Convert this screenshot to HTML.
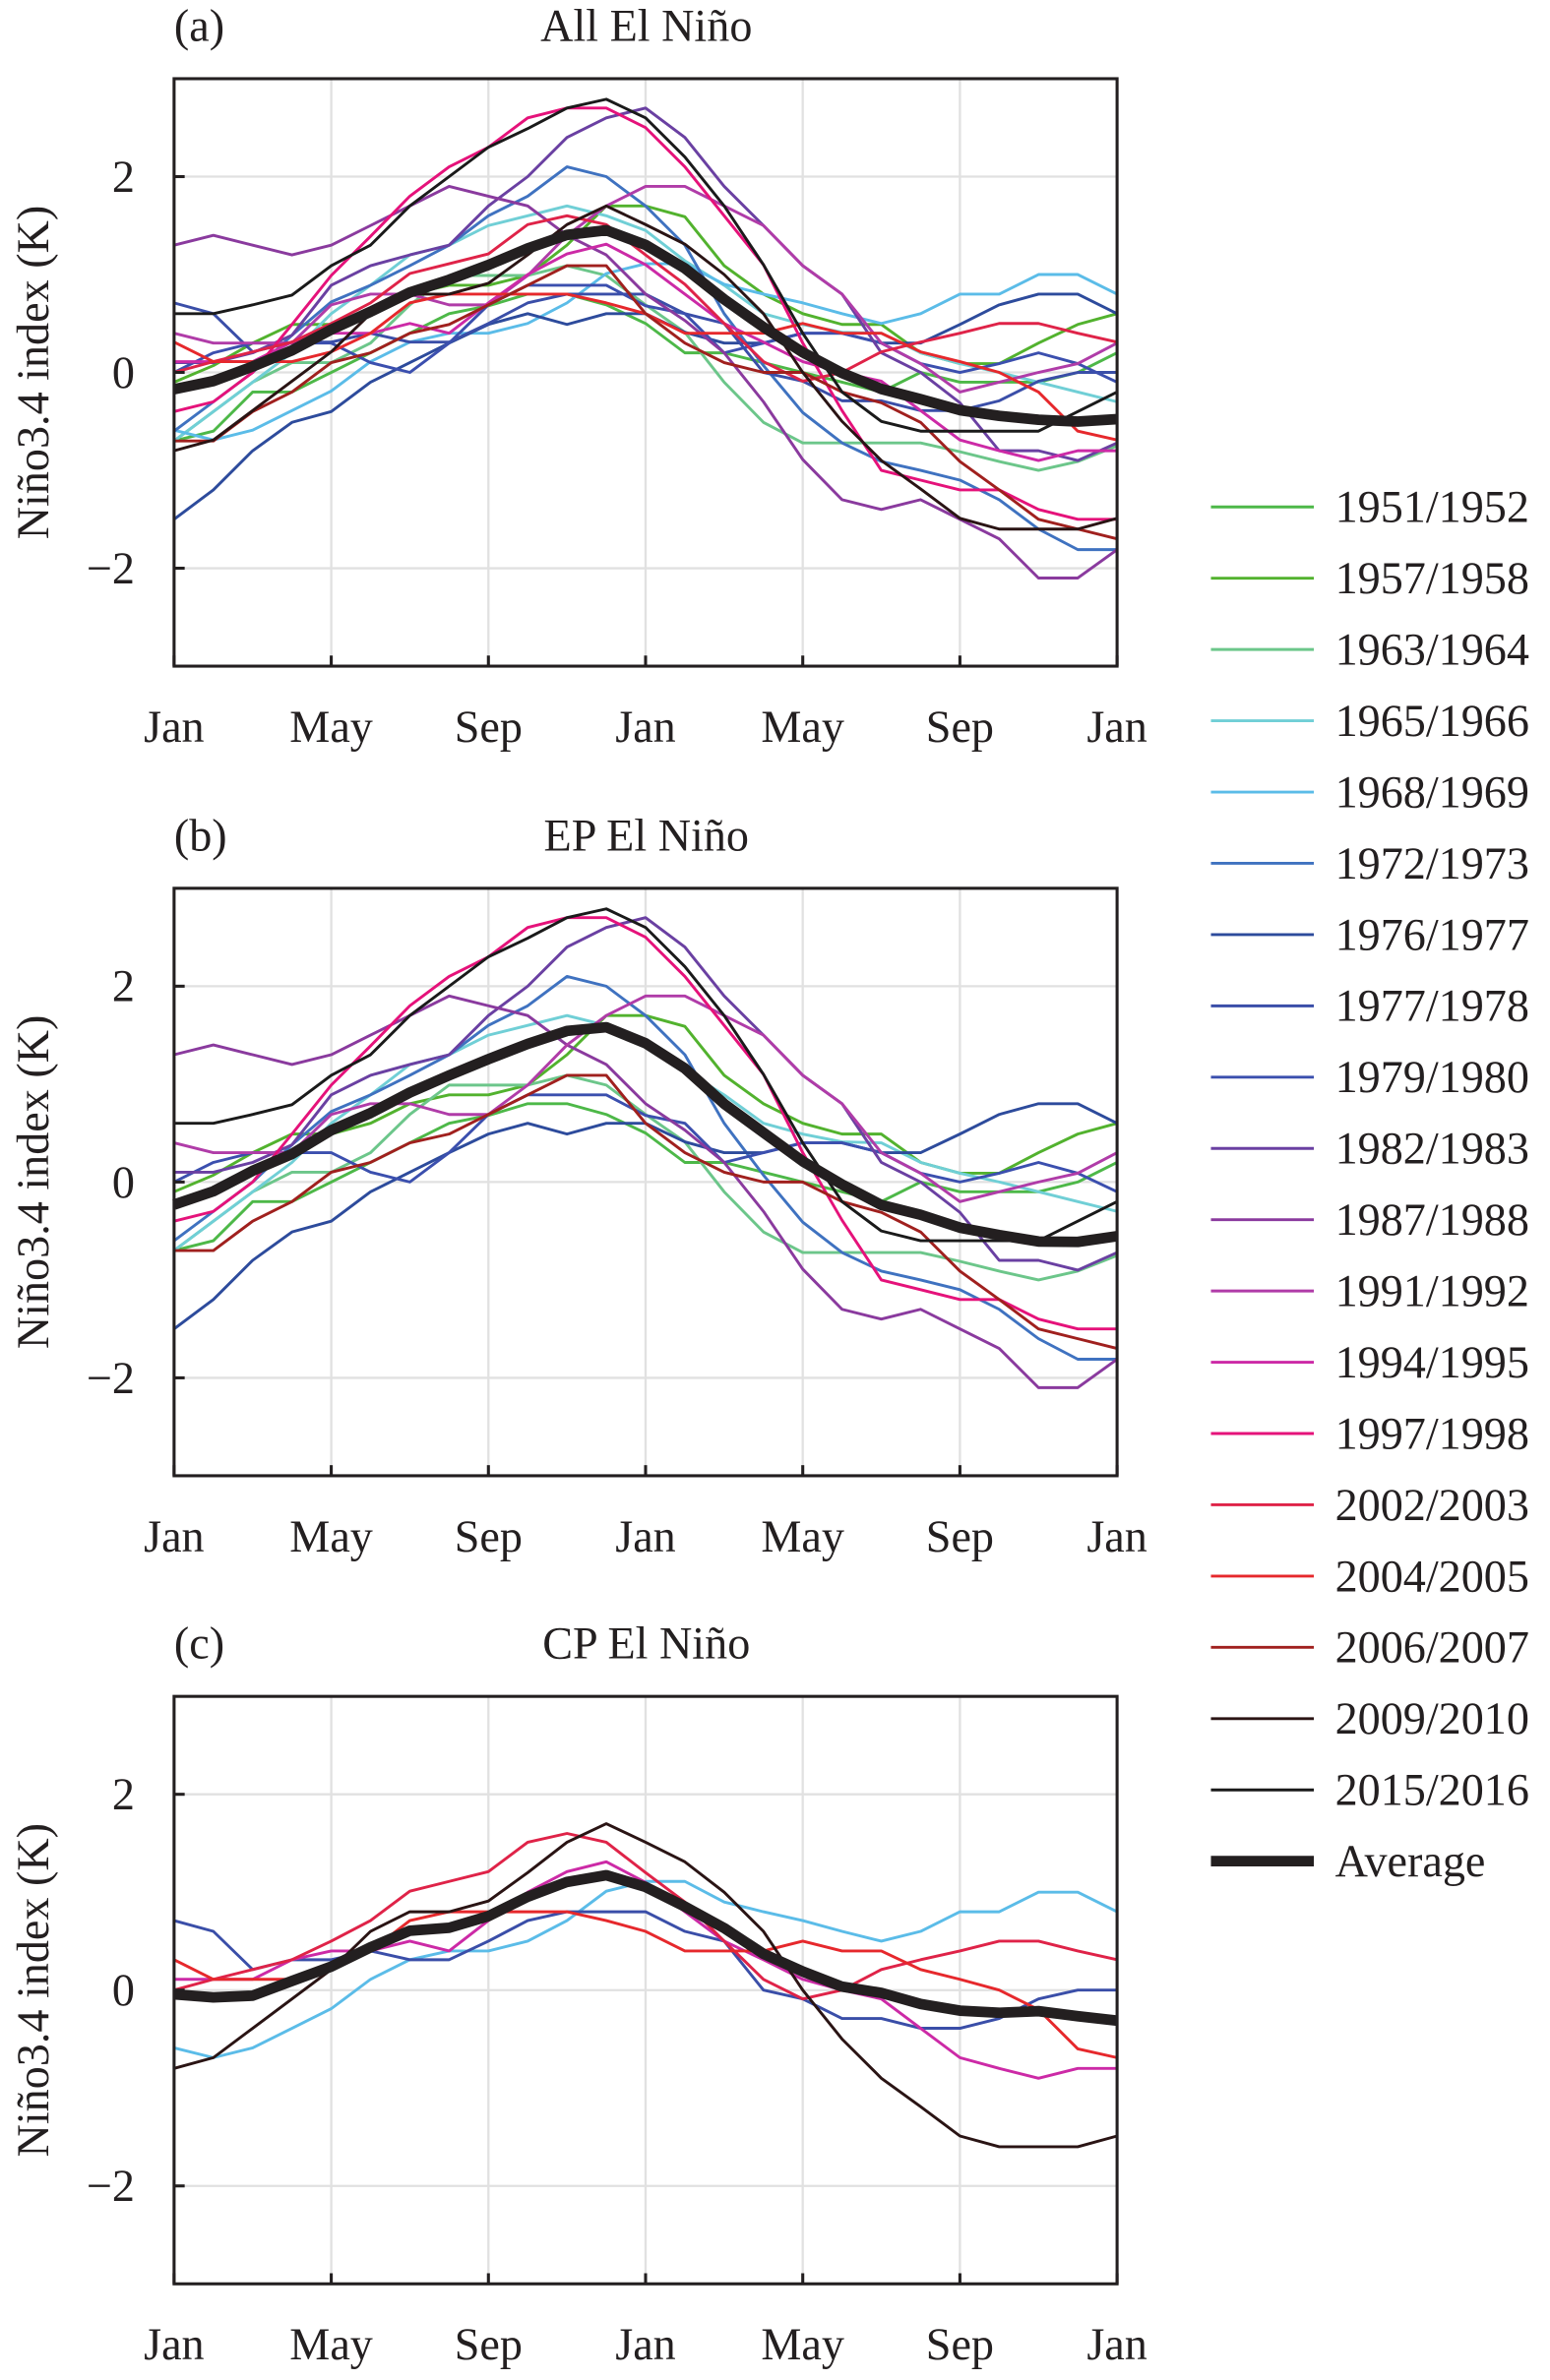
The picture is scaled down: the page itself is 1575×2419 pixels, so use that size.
<!DOCTYPE html>
<html><head><meta charset="utf-8">
<style>
html,body{margin:0;padding:0;background:#fff;}
svg{display:block;}
text{font-family:"Liberation Serif",serif;fill:#231f20;}
</style></head>
<body>
<svg id="chart" xmlns="http://www.w3.org/2000/svg" width="1575" height="2419" viewBox="0 0 1024 1572.75"></svg>
<script>
const months = ["Jan","May","Sep","Jan","May","Sep","Jan"];
const yTicks = [2, 0, -2];
const yTickLabels = ["2", "0", "\u22122"];
const seriesNames = ["1951/1952","1957/1958","1963/1964","1965/1966","1968/1969","1972/1973","1976/1977","1977/1978","1979/1980","1982/1983","1987/1988","1991/1992","1994/1995","1997/1998","2002/2003","2004/2005","2006/2007","2009/2010","2015/2016"];
const seriesColors = ["#4db848","#52b22e","#6cc68a","#70cfd6","#5bbce8","#3f72c0","#2d4b9c","#3a4ea8","#3b4fae","#6a40a2","#8a3a9e","#b03ca8","#cc2aa6","#e5127a","#df2348","#e6282c","#a0201e","#2a1414","#1a1a1a"];
const seriesType = ["EP","EP","EP","EP","CP","EP","EP","CP","EP","EP","EP","EP","CP","EP","CP","CP","EP","CP","EP"];
const s1951 = [-0.7,-0.6,-0.2,-0.2,0,0.2,0.4,0.6,0.68,0.8,0.8,0.69,0.5,0.2,0.2,0.1,0,-0.1,-0.2,0,-0.1,-0.1,-0.1,0,0.2];
const s1957 = [-0.1,0.07,0.3,0.49,0.49,0.6,0.8,0.89,0.89,0.99,1.3,1.7,1.7,1.59,1.09,0.8,0.6,0.49,0.49,0.2,0.09,0.09,0.3,0.49,0.6];
const s1963 = [-0.7,-0.4,-0.1,0.1,0.1,0.3,0.69,0.99,0.99,0.99,1.09,0.99,0.69,0.41,-0.1,-0.51,-0.72,-0.72,-0.72,-0.72,-0.81,-0.91,-1.0,-0.91,-0.75];
const s1965 = [-0.7,-0.4,-0.1,0.2,0.6,0.89,1.2,1.3,1.5,1.6,1.7,1.6,1.45,1.14,0.89,0.6,0.49,0.41,0.4,0.2,0.09,0,-0.1,-0.2,-0.3];
const s1968 = [-0.59,-0.69,-0.59,-0.39,-0.19,0.11,0.31,0.4,0.4,0.5,0.71,1.01,1.11,1.11,0.9,0.8,0.71,0.6,0.5,0.6,0.8,0.8,1.0,1.0,0.8];
const s1972 = [-0.6,-0.3,0,0.38,0.72,0.89,1.09,1.3,1.6,1.8,2.1,2.0,1.7,1.3,0.6,0.07,-0.41,-0.72,-0.91,-1.0,-1.1,-1.3,-1.6,-1.81,-1.81];
const s1976 = [-1.5,-1.2,-0.8,-0.51,-0.4,-0.1,0.1,0.3,0.49,0.6,0.49,0.6,0.6,0.41,0.3,0.3,0.4,0.4,0.3,0.3,0.49,0.69,0.8,0.8,0.6];
const s1977 = [0.71,0.6,0.21,0.31,0.31,0.4,0.31,0.31,0.5,0.71,0.8,0.8,0.8,0.6,0.5,0,-0.09,-0.29,-0.29,-0.39,-0.39,-0.29,-0.09,0,0];
const s1979 = [0,0.2,0.3,0.3,0.3,0.1,0,0.3,0.69,0.89,0.89,0.89,0.68,0.6,0.2,0.3,0.4,0.4,0.3,0.09,0,0.09,0.2,0.09,-0.1];
const s1982 = [0.1,0.1,0.2,0.38,0.89,1.09,1.2,1.3,1.7,2.0,2.4,2.6,2.7,2.4,1.9,1.5,1.09,0.8,0.2,0,-0.31,-0.8,-0.8,-0.9,-0.72];
const s1987 = [1.3,1.4,1.3,1.2,1.3,1.5,1.7,1.9,1.8,1.7,1.4,1.2,0.8,0.53,0.2,-0.3,-0.89,-1.3,-1.4,-1.3,-1.5,-1.7,-2.1,-2.1,-1.81];
const s1991 = [0.4,0.3,0.3,0.3,0.69,0.8,0.8,0.69,0.69,0.99,1.4,1.7,1.9,1.9,1.7,1.5,1.09,0.8,0.3,0.09,-0.2,-0.1,0,0.09,0.3];
const s1994 = [0.11,0.11,0.11,0.31,0.4,0.4,0.5,0.4,0.71,1.0,1.21,1.31,1.1,0.8,0.5,0.31,0.11,0,-0.09,-0.39,-0.69,-0.8,-0.9,-0.8,-0.8];
const s1997 = [-0.4,-0.3,0,0.49,0.99,1.39,1.8,2.1,2.3,2.6,2.7,2.7,2.5,2.1,1.6,1.1,0.3,-0.39,-1.0,-1.1,-1.2,-1.2,-1.4,-1.5,-1.5];
const s2002 = [0,0.11,0.21,0.31,0.5,0.71,1.01,1.11,1.21,1.51,1.6,1.51,1.2,0.9,0.5,0.11,-0.09,0,0.21,0.31,0.4,0.5,0.5,0.4,0.31];
const s2004 = [0.31,0.11,0.11,0.11,0.21,0.4,0.71,0.8,0.8,0.8,0.8,0.71,0.6,0.4,0.4,0.4,0.5,0.4,0.4,0.21,0.11,0,-0.2,-0.6,-0.69];
const s2006 = [-0.7,-0.7,-0.4,-0.2,0.1,0.2,0.4,0.49,0.69,0.89,1.09,1.09,0.6,0.3,0.1,0,0,-0.2,-0.31,-0.51,-0.91,-1.2,-1.5,-1.6,-1.7];
const s2009 = [-0.8,-0.69,-0.39,-0.09,0.21,0.6,0.8,0.8,0.91,1.2,1.51,1.7,1.51,1.31,1.0,0.6,0,-0.5,-0.9,-1.19,-1.49,-1.6,-1.6,-1.6,-1.49];
const s2015 = [0.6,0.6,0.69,0.79,1.09,1.3,1.7,2.0,2.3,2.49,2.7,2.79,2.6,2.2,1.7,1.1,0.4,-0.2,-0.5,-0.6,-0.6,-0.6,-0.6,-0.4,-0.2];
const seriesValues = [s1951,s1957,s1963,s1965,s1968,s1972,s1976,s1977,s1979,s1982,s1987,s1991,s1994,s1997,s2002,s2004,s2006,s2009,s2015];
const panelTitles = ["All El Ni\u00f1o","EP El Ni\u00f1o","CP El Ni\u00f1o"];
const panelLetters = ["(a)","(b)","(c)"];
const panelFilters = ["ALL","EP","CP"];

const NS = "http://www.w3.org/2000/svg";
const svg = document.getElementById("chart");
function mk(tag, attrs, parent){const e=document.createElementNS(NS,tag);for(const k in attrs)e.setAttribute(k,attrs[k]);(parent||svg).appendChild(e);return e;}

const X0 = 115, X1 = 738;
const panelTops = [52, 587, 1121];
const UNIT = 64.7;
const FS = 30;
function xScale(i){return X0 + (X1 - X0) * i / 24;}

panelTops.forEach((top, p) => {
  const bottom = top + 6*UNIT;
  const zeroY = top + 3*UNIT;
  const yScale = v => zeroY - v*UNIT;
  const g = mk("g", {});
  
  
  for (let k = 0; k <= 6; k++) {
    const x = xScale(k*4);
    const gl = mk("line", {x1:x, x2:x, y1:top, y2:bottom, stroke:"#e1e1e1", "stroke-width":1.5}, g);
    
    
  }
  yTicks.forEach(v => {
    const gl = mk("line", {x1:X0, x2:X1, y1:yScale(v), y2:yScale(v), stroke:"#e1e1e1", "stroke-width":1.5}, g);
    
    
  });
  const idxs = [];
  seriesValues.forEach((vals, i) => {
    if (panelFilters[p] !== "ALL" && seriesType[i] !== panelFilters[p]) return;
    idxs.push(i);
    const pts = vals.map((v, j) => xScale(j).toFixed(2) + "," + yScale(v).toFixed(2)).join(" ");
    const pl = mk("polyline", {points:pts, fill:"none", stroke:seriesColors[i], "stroke-width":1.9, "stroke-linejoin":"round"}, g);
    
    
  });
  const avg = seriesValues[0].map((_, j) => idxs.reduce((s, i) => s + seriesValues[i][j], 0) / idxs.length);
  const ap = mk("polyline", {points: avg.map((v, j) => xScale(j).toFixed(2) + "," + yScale(v).toFixed(2)).join(" "), fill:"none", stroke:"#231f20", "stroke-width":7, "stroke-linejoin":"round"}, g);
  
  
  const fr = mk("rect", {x:X0, y:top, width:X1-X0, height:bottom-top, fill:"none", stroke:"#231f20", "stroke-width":2}, g);
  
  
  yTicks.forEach((v, k) => {
    const t = mk("line", {x1:X0, x2:X0+7, y1:yScale(v), y2:yScale(v), stroke:"#231f20", "stroke-width":2}, g);
    
    
    const tl = mk("text", {x:89, y:yScale(v)+10, "text-anchor":"end", "font-size":FS}, g);
    tl.textContent = yTickLabels[k];
    
    
  });
  months.forEach((m, k) => {
    const x = xScale(k*4);
    const t = mk("line", {x1:x, x2:x, y1:bottom, y2:bottom-7, stroke:"#231f20", "stroke-width":2}, g);
    
    
    const tl = mk("text", {x:x, y:bottom+50, "text-anchor":"middle", "font-size":FS}, g);
    tl.textContent = m;
    
    
  });
  const lt = mk("text", {x:115, y:top-25, "text-anchor":"start", "font-size":FS}, g);
  lt.textContent = panelLetters[p];
  
  
  const tt = mk("text", {x:427, y:top-25, "text-anchor":"middle", "font-size":FS}, g);
  tt.textContent = panelTitles[p];
  
  
  const yt = mk("text", {x:0, y:0, "text-anchor":"middle", "font-size":FS, transform:"translate(32," + (zeroY) + ") rotate(-90)"}, g);
  yt.textContent = "Ni\u00f1o3.4 index (K)";
  
  
});

const lg = mk("g", {});


const entries = seriesNames.concat(["Average"]);
entries.forEach((n, i) => {
  const y = 335 + 47.1*i;
  const isAvg = i === seriesNames.length;
  const e = mk("g", {}, lg);
  
  
  mk("line", {x1:800, x2:868, y1:y, y2:y, stroke: isAvg ? "#231f20" : seriesColors[i], "stroke-width": isAvg ? 7 : 1.9}, e);
  const t = mk("text", {x:882, y:y+10, "font-size":FS}, e);
  t.textContent = n;
});
</script>
</body></html>
